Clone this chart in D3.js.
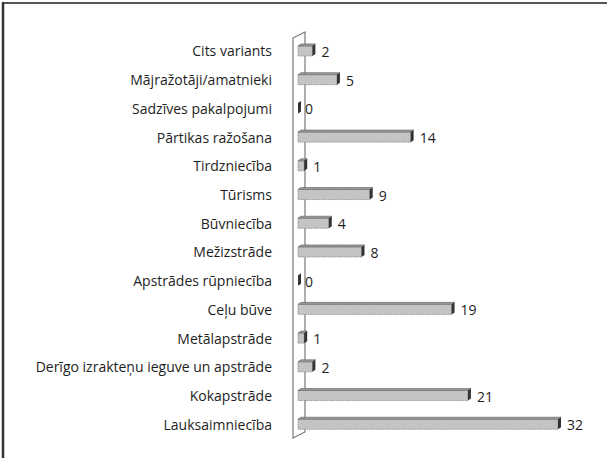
<!DOCTYPE html>
<html>
<head>
<meta charset="utf-8">
<script src="https://cdn.jsdelivr.net/npm/d3@7"></script>
<style>
  body { margin: 0; background: #fff; }
  text { font-family: "Open Sans", "Noto Sans", sans-serif; fill: #1e1e1e; font-weight: 500; }
</style>
</head>
<body>
<div id="chart"></div>
<script>
const WIDTH = 607, HEIGHT = 458;

// data, top to bottom
const categories = [
  "Cits variants",
  "Mājražotāji/amatnieki",
  "Sadzīves pakalpojumi",
  "Pārtikas ražošana",
  "Tirdzniecība",
  "Tūrisms",
  "Būvniecība",
  "Mežizstrāde",
  "Apstrādes rūpniecība",
  "Ceļu būve",
  "Metālapstrāde",
  "Derīgo izrakteņu ieguve un apstrāde",
  "Kokapstrāde",
  "Lauksaimniecība"
];
const values = [2, 5, 0, 14, 1, 9, 4, 8, 0, 19, 1, 2, 21, 32];

let rows = categories.map((c, i) => ({cat: c, val: values[i]}));

let svg = d3.select("#chart")
  .append("svg")
  .attr("width", WIDTH)
  .attr("height", HEIGHT);

// frame (only top and left edges show)
svg.append("line")
  .attr("x1", 2).attr("y1", 3).attr("x2", WIDTH).attr("y2", 3)
  .attr("stroke", "#555").attr("stroke-width", 2);
svg.append("line")
  .attr("x1", 3).attr("y1", 2).attr("x2", 3).attr("y2", HEIGHT)
  .attr("stroke", "#333").attr("stroke-width", 2.5);

let x = d3.scaleLinear()
  .domain([0, 32])
  .range([298, 560]);

let y = d3.scaleBand()
  .domain(categories)
  .range([35.6, 437.6])
  .paddingInner(0.58)
  .paddingOuter(0.29);

// 3d wall on the left
const wallL = x(0) - 5, wallR = x(0) + 7, wallTop = 38, wallBot = 438, slant = 6;
svg.append("path")
  .attr("d", `M${wallL},${wallBot} L${wallL},${wallTop} L${wallR},${wallTop - slant} L${wallR},${wallBot - slant} Z`)
  .attr("fill", "#fff")
  .attr("stroke", "#7a7a7a")
  .attr("stroke-width", 1.2);

// category labels
svg.append("g")
  .selectAll("text")
  .data(rows)
  .enter()
  .append("text")
  .attr("x", 272)
  .attr("y", d => y(d.cat) + y.bandwidth() / 2 + 1.5)
  .attr("dy", "0.36em")
  .style("text-anchor", "end")
  .style("font-size", "14px")
  .text(d => d.cat);

// bars: front face, top face and dark end face
const dx = 3, dy = 2;
let bars = svg.append("g")
  .selectAll("g")
  .data(rows)
  .enter()
  .append("g");

bars.append("rect")
  .attr("x", x(0))
  .attr("y", d => y(d.cat) + dy)
  .attr("width", d => Math.max(0, x(d.val) - 2 - x(0)))
  .attr("height", y.bandwidth() - dy)
  .attr("fill", "#c4c4c4")
  .attr("stroke", d => d.val > 0 ? "#8a8a8a" : "none")
  .attr("stroke-width", 0.8)
  .attr("stroke-dasharray", "1.5,0.8");

bars.append("path")
  .attr("d", d => {
    let x0 = x(0), x1 = Math.max(x0, x(d.val) - 2), t = y(d.cat) + dy;
    return `M${x0},${t} L${x0 + dx},${t - dy} L${x1 + dx},${t - dy} L${x1},${t} Z`;
  })
  .attr("fill", "#999")
  .attr("stroke", "#6e6e6e")
  .attr("stroke-width", 0.7);

bars.append("path")
  .attr("d", d => {
    let x1 = Math.max(x(0), x(d.val) - 2), t = y(d.cat) + dy, b = y(d.cat) + y.bandwidth();
    return `M${x1},${t} L${x1 + dx},${t - dy} L${x1 + dx},${b - dy} L${x1},${b} Z`;
  })
  .attr("fill", "#333");

// value labels
svg.append("g")
  .selectAll("text")
  .data(rows)
  .enter()
  .append("text")
  .attr("x", d => x(d.val) + 7)
  .attr("y", d => y(d.cat) + y.bandwidth() / 2 + 2)
  .attr("dy", "0.36em")
  .style("text-anchor", "start")
  .style("font-size", "14px")
  .text(d => d.val);
</script>
</body>
</html>
